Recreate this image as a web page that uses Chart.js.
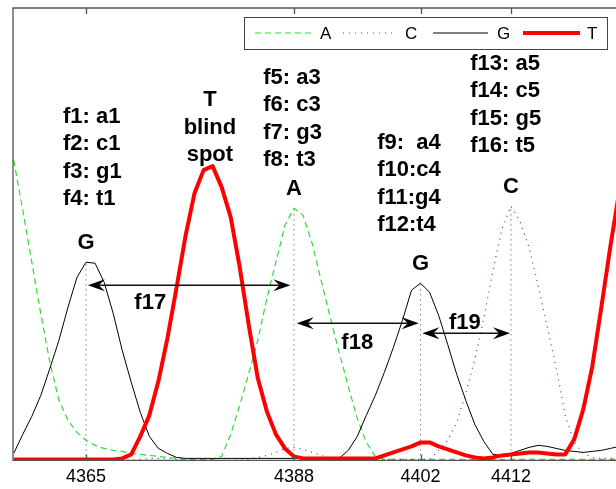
<!DOCTYPE html>
<html>
<head>
<meta charset="utf-8">
<script src="https://cdn.jsdelivr.net/npm/chart.js@4.4.1/dist/chart.umd.min.js"></script>
<style>
  html, body { margin: 0; padding: 0; background: #fff; }
  #wrap { width: 616px; height: 489px; }
</style>
</head>
<body>
<div id="wrap"><canvas id="trace"></canvas></div>
<script>
// base positions along the read (one sample per base position)
var positions = [4357,4358,4359,4360,4361,4362,4363,4364,4365,4366,4367,4368,4369,4370,4371,4372,4373,4374,4375,4376,4377,4378,4379,4380,4381,4382,4383,4384,4385,4386,4387,4388,4389,4390,4391,4392,4393,4394,4395,4396,4397,4398,4399,4400,4401,4402,4403,4404,4405,4406,4407,4408,4409,4410,4411,4412,4413,4414,4415,4416,4417,4418,4419,4420,4421,4422,4423,4424];

// trace intensities per channel
var traceA = [300,250,198,146,98,60,40,28,20,15,12,10,9,7,6,5,4,3,2,1,1,1,1,4,26,55,87,120,162,198,235,252,245,217,180,143,108,74,42,18,4,1,1,1,1,1,1,1,1,1,1,1,1,1,1,1,1,1,1,1,1,1,1,1,1,1,1,1];
var traceC = [0,0,0,0,0,0,0,0,0,0,0,0,0,0,1,2,2,2,1,0,0,0,0,0,0,0,1,3,5,8,12,13,11,8,5,2,1,1,1,1,1,1,1,1,1,1,1,10,20,38,67,101,142,189,231,254,239,213,175,134,93,45,18,7,3,2,2,2];
var traceG = [7,26,44,65,92,120,153,183,198,197,178,147,110,78,48,24,12,7,3,2,2,2,2,2,2,2,2,2,2,2,2,2,2,2,2,1,2,10,24,45,65,88,113,140,170,177,168,145,116,86,60,36,19,6,5,7,10,13,15,14,12,10,9,8,9,10,12,14];
var traceT = [1,1,1,1,1,1,1,1,1,1,1,1,2,6,24,45,79,122,172,224,267,290,294,273,243,193,135,82,49,26,12,4,2,2,2,2,2,2,2,2,2,5,8,11,14,18,18,14,11,8,5,3,2,3,5,6,7,8,8,7,6,6,21,51,94,153,214,270];

var channelNames = ['A', 'C', 'G', 'T'];
var tickValues = [4365, 4388, 4402, 4412];

// called peaks
var peakBases = ['G', 'A', 'G', 'C'];
var peakPos = [4365, 4388, 4402, 4412];
var peakHeight = [198, 252, 177, 254];

// feature lists
var featureText1 = ['f1: a1', 'f2: c1', 'f3: g1', 'f4: t1'];
var featureText2 = ['f5: a3', 'f6: c3', 'f7: g3', 'f8: t3'];
var featureText3 = ['f9:  a4', 'f10:c4', 'f11:g4', 'f12:t4'];
var featureText4 = ['f13: a5', 'f14: c5', 'f15: g5', 'f16: t5'];
var blindText = ['T', 'blind', 'spot'];

// spacing features
var spacingNames = ['f17', 'f18', 'f19'];
var spacingFrom = [4365.2, 4388.3, 4402.2];
var spacingTo = [4387.6, 4401.8, 4411.9];

function pts(ys) {
  return positions.map(function (p, i) { return { x: p, y: ys[i] }; });
}

var datasets = [
  { label: 'A', data: pts(traceA), borderColor: '#2fdc2f', borderWidth: 1.2, borderDash: [6, 4], order: 3 },
  { label: 'C', data: pts(traceC), borderColor: '#3d3dc8', borderWidth: 1.2, borderDash: [1, 5], order: 2 },
  { label: 'G', data: pts(traceG), borderColor: '#000000', borderWidth: 1, order: 1 },
  { label: 'T', data: pts(traceT), borderColor: '#ff0000', borderWidth: 4, order: 0 }
];
// dotted drop lines under the called peaks
peakPos.forEach(function (p, i) {
  datasets.push({
    label: '', data: [{ x: p, y: 0 }, { x: p, y: peakHeight[i] }],
    borderColor: '#444', borderWidth: 1, borderDash: [1, 4], order: 4
  });
});
datasets.forEach(function (d) {
  d.pointRadius = 0; d.tension = 0; d.fill = false;
  d.borderJoinStyle = 'round';
});

var TXT = '"Liberation Sans", Arial, sans-serif';

function arrowHead(ctx, x, y, dir) {
  // dart-shaped head, dir = +1 points right, -1 points left
  ctx.beginPath();
  ctx.moveTo(x, y);
  ctx.lineTo(x - dir * 17, y - 6);
  ctx.lineTo(x - dir * 11, y);
  ctx.lineTo(x - dir * 17, y + 6);
  ctx.closePath();
  ctx.fill();
}

var decorPlugin = {
  id: 'decor',
  afterDatasetsDraw: function (chart) {
    var ctx = chart.ctx, xs = chart.scales.x, ys = chart.scales.y, a = chart.chartArea;
    ctx.save();

    // frame (left, top, bottom) and inward ticks
    ctx.strokeStyle = '#555';
    ctx.lineWidth = 1.3;
    ctx.beginPath();
    ctx.moveTo(a.right + 2, a.top); ctx.lineTo(a.left, a.top);
    ctx.lineTo(a.left, a.bottom); ctx.lineTo(a.right + 2, a.bottom);
    ctx.stroke();
    tickValues.forEach(function (v) {
      var px = Math.round(xs.getPixelForValue(v)) + 0.5;
      ctx.beginPath();
      ctx.moveTo(px, a.top); ctx.lineTo(px, a.top + 6);
      ctx.moveTo(px, a.bottom); ctx.lineTo(px, a.bottom - 6);
      ctx.stroke();
    });

    ctx.fillStyle = '#000';
    ctx.font = 'bold 22px ' + TXT;
    ctx.textBaseline = 'middle';

    // peak calls
    ctx.textAlign = 'center';
    peakBases.forEach(function (b, i) {
      ctx.fillText(b, xs.getPixelForValue(peakPos[i]), ys.getPixelForValue(peakHeight[i]) - 19);
    });
    var bx = xs.getPixelForValue(4378.7);
    blindText.forEach(function (t, i) {
      ctx.fillText(t, bx, ys.getPixelForValue(360) + i * 27.5);
    });

    // feature blocks
    ctx.textAlign = 'left';
    [[featureText1, 4362.45, 343], [featureText2, 4384.6, 382],
     [featureText3, 4397.2, 317], [featureText4, 4407.5, 396]].forEach(function (blk) {
      var x0 = xs.getPixelForValue(blk[1]);
      blk[0].forEach(function (t, i) {
        ctx.fillText(t, x0, ys.getPixelForValue(blk[2]) + i * 27.2);
      });
    });

    // spacing arrows
    var arrowY = [175, 137, 127];
    var labelPos = [[4372.1, 157], [4395, 117], [4406.9, 137]];
    ctx.strokeStyle = '#111';
    ctx.fillStyle = '#000';
    ctx.lineWidth = 1.4;
    spacingNames.forEach(function (n, i) {
      var x1 = xs.getPixelForValue(spacingFrom[i]);
      var x2 = xs.getPixelForValue(spacingTo[i]);
      var y = ys.getPixelForValue(arrowY[i]);
      ctx.beginPath();
      ctx.moveTo(x1 + 8, y); ctx.lineTo(x2 - 8, y);
      ctx.stroke();
      arrowHead(ctx, x1, y, -1);
      arrowHead(ctx, x2, y, 1);
      ctx.textAlign = 'center';
      ctx.fillText(n, xs.getPixelForValue(labelPos[i][0]), ys.getPixelForValue(labelPos[i][1]));
    });

    // legend
    var L = { left: 244, top: 17, right: 607, bottom: 49 };
    ctx.fillStyle = '#fff';
    ctx.fillRect(L.left, L.top, L.right - L.left, L.bottom - L.top);
    ctx.strokeStyle = '#444';
    ctx.lineWidth = 1;
    ctx.strokeRect(L.left + 0.5, L.top + 0.5, L.right - L.left, L.bottom - L.top);
    var segs = [[255, 312, 320], [343, 397, 405], [433, 488, 497], [523, 580, 587]];
    var ym = (L.top + L.bottom) / 2;
    ctx.font = '17px ' + TXT;
    ctx.textAlign = 'left';
    channelNames.forEach(function (n, i) {
      var d = chart.data.datasets[i];
      ctx.save();
      ctx.strokeStyle = d.borderColor;
      ctx.lineWidth = d.borderWidth;
      ctx.setLineDash(d.borderDash || []);
      ctx.beginPath();
      ctx.moveTo(segs[i][0], ym); ctx.lineTo(segs[i][1], ym);
      ctx.stroke();
      ctx.restore();
      ctx.fillStyle = '#000';
      ctx.fillText(n, segs[i][2], ym + 1);
    });

    ctx.restore();
  }
};

new Chart(document.getElementById('trace'), {
  type: 'line',
  data: { datasets: datasets },
  options: {
    responsive: true,
    maintainAspectRatio: false,
    animation: false,
    layout: { padding: { left: 13, top: 8, right: 0, bottom: -5.4 } },
    plugins: { legend: { display: false }, tooltip: { enabled: false } },
    scales: {
      x: {
        type: 'linear',
        min: 4356.92,
        max: 4423.62,
        afterBuildTicks: function (scale) {
          scale.ticks = tickValues.map(function (v) { return { value: v }; });
        },
        ticks: {
          color: '#000', font: { size: 18, family: TXT, lineHeight: 1.2 }, padding: 6.2,
          maxRotation: 0, autoSkip: false,
          callback: function (v) { return String(v); }
        },
        grid: { display: false, drawTicks: false },
        border: { display: false }
      },
      y: { display: false, min: 0, max: 452 }
    }
  },
  plugins: [decorPlugin]
});
</script>
</body>
</html>
